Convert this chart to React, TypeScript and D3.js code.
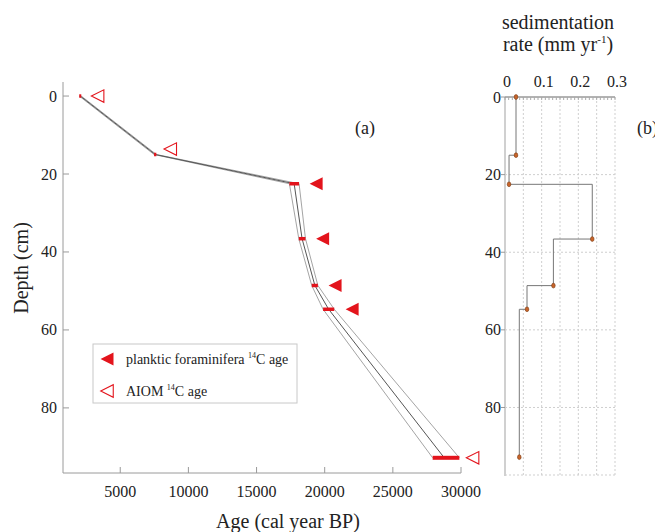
import * as d3 from 'd3';

// age-depth model (cal yr BP) at dated depths
const modelDepth = [0, 15, 22.5, 36.6, 48.6, 54.7, 92.8];
const ageMin = [1990, 7480, 17410, 18100, 19050, 19880, 27920];
const ageMedian = [2067, 7566, 17760, 18340, 19280, 20290, 28770];
const ageMax = [2140, 7650, 18120, 18590, 19500, 20700, 29880];

// raw 14C ages shown as triangles
const plankticDepth = [22.5, 36.6, 48.6, 54.7];
const plankticAge = [19370, 19850, 20760, 22010];
const aiomDepth = [0, 13.6, 92.8];
const aiomAge = [3340, 8670, 30850];

// sedimentation rate (mm/yr) at each dated depth
const rateValues = [0.03, 0.03, 0.011, 0.238, 0.132, 0.06, 0.039];

const xTicks = [5000, 10000, 15000, 20000, 25000, 30000];
const depthTicks = [0, 20, 40, 60, 80];
const rateTicks = [0, 0.1, 0.2, 0.3];
const rateGrid = [0.05, 0.1, 0.15, 0.2, 0.25, 0.3];

const RED = '#e3141c';
const FONT = '"Liberation Serif", "Times New Roman", serif';

function tri(cx: number, cy: number, s: number) {
  // left-pointing triangle
  return `M${cx - s / 2},${cy} L${cx + s / 2},${cy - s / 2} L${cx + s / 2},${cy + s / 2} Z`;
}

export default function App() {
  const x = d3.scaleLinear().domain([800, 30000]).range([63, 461]);
  const y = d3.scaleLinear().domain([-3.6, 96.7]).range([82, 473]);
  const yb = d3.scaleLinear().domain([0, 97.4]).range([97, 475]);
  const xr = d3.scaleLinear().domain([0, 0.3]).range([505, 615]);

  const line = d3
    .line<[number, number]>()
    .x((d) => x(d[0]))
    .y((d) => y(d[1]));
  const series = [
    { ages: ageMin, color: '#9a9a9a', w: 0.9 },
    { ages: ageMax, color: '#9a9a9a', w: 0.9 },
    { ages: ageMedian, color: '#555', w: 1 },
  ];

  // step path for rate
  const stepPts: [number, number][] = [];
  modelDepth.forEach((d, i) => {
    if (i === 0) stepPts.push([rateValues[0], d]);
    else {
      stepPts.push([rateValues[i], modelDepth[i - 1]]);
      stepPts.push([rateValues[i], d]);
    }
  });
  const stepLine = d3
    .line<[number, number]>()
    .x((d) => xr(d[0]))
    .y((d) => yb(d[1]));
  const minorTicks = d3.range(0, 0.3001, 0.01);

  return (
    <svg
      width={655}
      height={532}
      style={{ position: 'absolute', left: 0, top: 0, background: '#fff' }}
      fontFamily={FONT}
    >
      {/* ---- panel (a) ---- */}
      <line x1={63} x2={63} y1={82} y2={473} stroke="#9a9a9a" />
      <line x1={63} x2={461} y1={473} y2={473} stroke="#9a9a9a" />
      {xTicks.map((t) => (
        <g key={t}>
          <line x1={x(t)} x2={x(t)} y1={473} y2={467} stroke="#9a9a9a" />
          <text x={x(t)} y={497} textAnchor="middle" fontSize={16} fill="#222">
            {t}
          </text>
        </g>
      ))}
      {depthTicks.map((t) => (
        <g key={t}>
          <line x1={63} x2={69} y1={y(t)} y2={y(t)} stroke="#9a9a9a" />
          <text x={57} y={y(t) + 5.5} textAnchor="end" fontSize={16} fill="#222">
            {t}
          </text>
        </g>
      ))}
      <text
        transform="translate(28,268) rotate(-90)"
        textAnchor="middle"
        fontSize={20}
        fill="#222"
      >
        Depth (cm)
      </text>
      <text x={288} y={528} textAnchor="middle" fontSize={20} fill="#222">
        Age (cal year BP)
      </text>
      <text x={355} y={134} fontSize={18} fill="#222">
        (a)
      </text>

      {series.map((s, k) => (
        <path
          key={k}
          d={line(s.ages.map((a, i) => [a, modelDepth[i]]) as [number, number][]) || ''}
          fill="none"
          stroke={s.color}
          strokeWidth={s.w}
        />
      ))}
      {modelDepth.map((d, i) => (
        <line
          key={i}
          x1={x(ageMin[i])}
          x2={x(ageMax[i])}
          y1={y(d)}
          y2={y(d)}
          stroke={RED}
          strokeWidth={i === modelDepth.length - 1 ? 4 : 3.5}
        />
      ))}
      {plankticDepth.map((d, i) => (
        <path key={i} d={tri(x(plankticAge[i]), y(d), 13)} fill={RED} />
      ))}
      {aiomDepth.map((d, i) => (
        <path
          key={i}
          d={tri(x(aiomAge[i]), y(d), 12.5)}
          fill="none"
          stroke={RED}
          strokeWidth={1.1}
        />
      ))}

      {/* legend */}
      <rect x={93} y={344} width={204} height={59} fill="#fff" stroke="#c8c8c8" />
      <path d={tri(107, 359, 13)} fill={RED} />
      <text x={126} y={364} fontSize={14} fill="#222">
        planktic foraminifera <tspan fontSize={8} dy={-6}>14</tspan>
        <tspan dy={6}>C age</tspan>
      </text>
      <path d={tri(107, 391, 12.5)} fill="none" stroke={RED} strokeWidth={1.1} />
      <text x={126} y={396} fontSize={14} fill="#222">
        AIOM <tspan fontSize={8} dy={-6}>14</tspan>
        <tspan dy={6}>C age</tspan>
      </text>

      {/* ---- panel (b) ---- */}
      <text x={558} y={29} textAnchor="middle" fontSize={20} fill="#222">
        sedimentation
      </text>
      <text x={558} y={51} textAnchor="middle" fontSize={20} fill="#222">
        rate (mm yr<tspan fontSize={11} dy={-8}>-1</tspan>
        <tspan dy={8}>)</tspan>
      </text>
      {rateGrid.map((t) => (
        <line
          key={t}
          x1={xr(t)}
          x2={xr(t)}
          y1={97}
          y2={475}
          stroke="#cfcfcf"
          strokeDasharray="2,2"
        />
      ))}
      {depthTicks.slice(1).map((t) => (
        <line
          key={t}
          x1={505}
          x2={615}
          y1={yb(t)}
          y2={yb(t)}
          stroke="#cfcfcf"
          strokeDasharray="2,2"
        />
      ))}
      <line x1={505} x2={615} y1={475} y2={475} stroke="#cfcfcf" strokeDasharray="2,2" />
      <line x1={505} x2={505} y1={97} y2={476} stroke="#d0d0d0" strokeWidth={2} />
      <line x1={505} x2={615} y1={97} y2={97} stroke="#666" />
      {minorTicks.map((t, i) => (
        <line key={i} x1={xr(t)} x2={xr(t)} y1={97} y2={100} stroke="#aaa" />
      ))}
      {rateTicks.map((t) => (
        <text key={t} x={xr(t) + 2} y={87} textAnchor="middle" fontSize={16} fill="#222">
          {t}
        </text>
      ))}
      {depthTicks.map((t) => (
        <g key={t}>
          <line x1={501} x2={505} y1={yb(t)} y2={yb(t)} stroke="#999" />
          <text x={501} y={yb(t) + 5.5} textAnchor="end" fontSize={16} fill="#222">
            {t}
          </text>
        </g>
      ))}
      <text x={637} y={134} fontSize={18} fill="#222">
        (b)
      </text>
      <path d={stepLine(stepPts) || ''} fill="none" stroke="#777" strokeWidth={1} />
      {modelDepth.map((d, i) => (
        <ellipse
          key={i}
          cx={xr(rateValues[i])}
          cy={yb(d)}
          rx={1.8}
          ry={2.4}
          fill="#c8642a"
          stroke="#7a3a12"
          strokeWidth={0.6}
        />
      ))}
    </svg>
  );
}
